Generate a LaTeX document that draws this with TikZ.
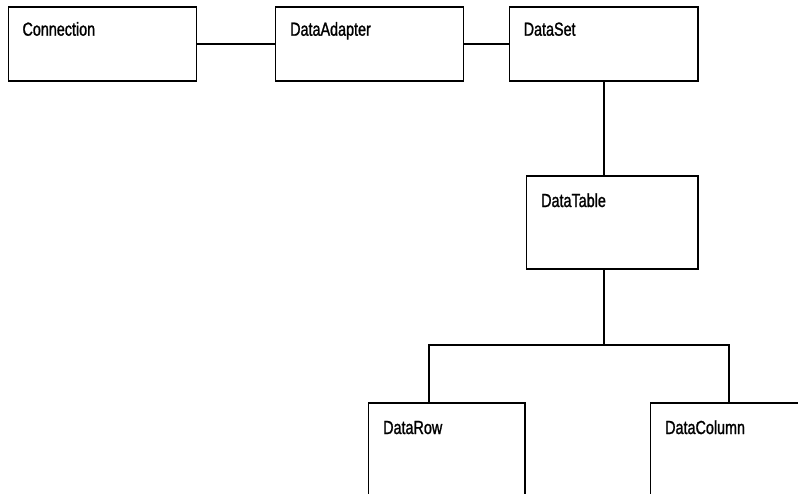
\documentclass[tikz,border=0pt]{standalone}
\usepackage{fontspec}
\setmainfont{Liberation Sans}[FakeStretch=0.76,FakeBold=1.2]
\begin{document}
\begin{tikzpicture}[x=1pt,y=-1pt,
  box/.style={draw,line width=1.8pt,inner sep=0pt,anchor=north west},
  lbl/.style={anchor=base west,inner sep=0pt,font=\fontsize{18.9}{20}\selectfont},
  link/.style={line width=1.8pt}]
\useasboundingbox (0,0) rectangle (798,493);
\clip (0,0) rectangle (798,493);
\node[box,minimum width=188pt,minimum height=74pt] (conn) at (7.5,6) {};
\node[box,minimum width=188pt,minimum height=74pt] (adap) at (274.5,6) {};
\node[box,minimum width=188.5pt,minimum height=74pt] (dset) at (508.5,6) {};
\node[box,minimum width=171.5pt,minimum height=93pt] (dtab) at (525.5,175) {};
\node[box,minimum width=156.5pt,minimum height=130pt] (drow) at (367.5,402) {};
\node[box,minimum width=200pt,minimum height=130pt] (dcol) at (649.5,402) {};
\node[lbl] (connT) at (22.3,35.7) {Connection};
\node[lbl] (adapT) at (290,35.7) {DataAdapter};
\node[lbl] (dsetT) at (523.5,35.7) {DataSet};
\node[lbl] (dtabT) at (541,207) {DataTable};
\node[lbl] (drowT) at (383,434) {DataRow};
\node[lbl] (dcolT) at (665,434) {DataColumn};
\coordinate (xmid) at (604,0);
\coordinate (xleft) at (429,0);
\coordinate (xright) at (729,0);
\coordinate (ybar) at (0,345);
\draw[link] (conn.east) -- (adap.west);
\draw[link] (adap.east) -- (dset.west);
\draw[link] (dset.south -| xmid) -- (dtab.north -| xmid);
\draw[link] (dtab.south -| xmid) -- (xmid |- ybar);
\draw[link] (drow.north -| xleft) -- (xleft |- ybar) -- (xright |- ybar) -- (dcol.north -| xright);
\end{tikzpicture}
\end{document}
